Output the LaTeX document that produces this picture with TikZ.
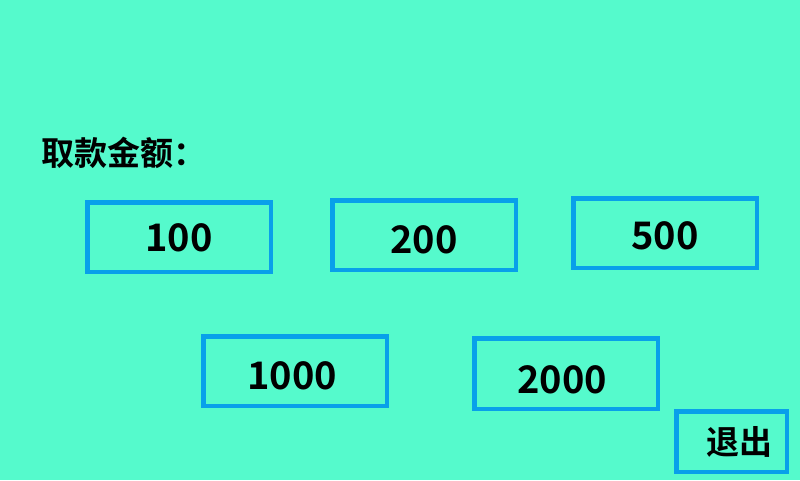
\documentclass[tikz,border=0pt]{standalone}
\usepackage{fontspec}
\newfontfamily\cjk{Noto Sans CJK SC}[BoldFont={Noto Sans CJK SC Bold}]
\definecolor{bg}{RGB}{85,250,204}
\definecolor{btn}{RGB}{8,160,234}
\begin{document}
\begin{tikzpicture}[x=1pt,y=-1pt,
  btnbox/.style={draw=btn,line width=4.5pt},
  numtxt/.style={font=\cjk\bfseries\fontsize{38}{40}\selectfont,inner sep=0pt,anchor=center},
  cntxt/.style={font=\cjk\bfseries\fontsize{33}{36}\selectfont,inner sep=0pt}]
\fill[bg] (0,0) rectangle (800,480);
\useasboundingbox (0,0) rectangle (800,480);
\node[cntxt,anchor=west] (title) at (41,153) {取款金额：};
\draw[btnbox] (87.25,202.25) rectangle (270.75,271.75);
\node[numtxt] (t100) at (179,238) {100};
\draw[btnbox] (332.25,200.25) rectangle (515.75,269.75);
\node[numtxt] (t200) at (424,240) {200};
\draw[btnbox] (573.25,198.25) rectangle (756.75,267.75);
\node[numtxt] (t500) at (665,236) {500};
\draw[btnbox] (203.25,336.25) rectangle (386.75,405.75);
\node[numtxt] (t1000) at (292,376) {1000};
\draw[btnbox] (474.25,338.25) rectangle (657.75,408.75);
\node[numtxt] (t2000) at (562,380) {2000};
\draw[btnbox] (676.25,411.25) rectangle (786.75,471.75);
\node[cntxt] (quit) at (739,442) {退出};
\end{tikzpicture}
\end{document}
